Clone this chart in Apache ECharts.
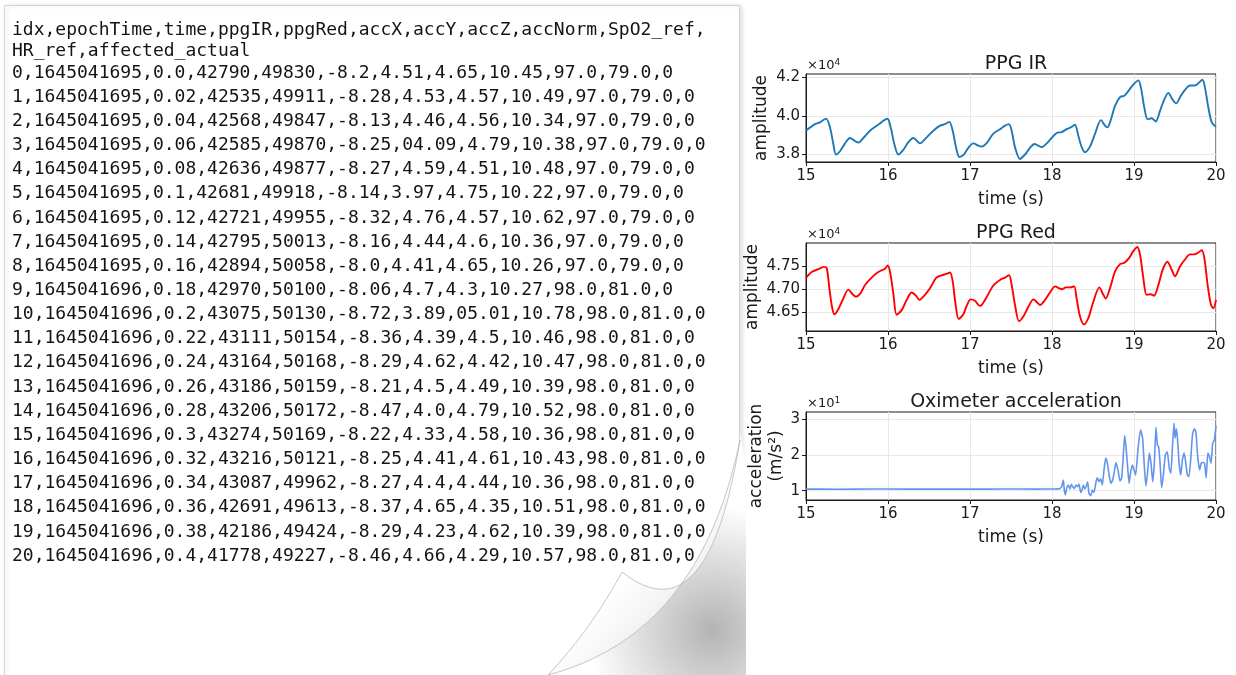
<!DOCTYPE html>
<html>
<head>
<meta charset="utf-8">
<script src="https://cdn.jsdelivr.net/npm/echarts@6/dist/echarts.min.js"></script>
<style>
  html, body { margin: 0; padding: 0; background: #ffffff; }
  #chart { width: 1236px; height: 675px; }
</style>
</head>
<body>
<div id="chart"></div>
<script>
// ---- CSV excerpt shown on the sheet ----
const csvHeader = [
  'idx,epochTime,time,ppgIR,ppgRed,accX,accY,accZ,accNorm,SpO2_ref,',
  'HR_ref,affected_actual'
];
const csvRows = [
  '0,1645041695,0.0,42790,49830,-8.2,4.51,4.65,10.45,97.0,79.0,0',
  '1,1645041695,0.02,42535,49911,-8.28,4.53,4.57,10.49,97.0,79.0,0',
  '2,1645041695,0.04,42568,49847,-8.13,4.46,4.56,10.34,97.0,79.0,0',
  '3,1645041695,0.06,42585,49870,-8.25,04.09,4.79,10.38,97.0,79.0,0',
  '4,1645041695,0.08,42636,49877,-8.27,4.59,4.51,10.48,97.0,79.0,0',
  '5,1645041695,0.1,42681,49918,-8.14,3.97,4.75,10.22,97.0,79.0,0',
  '6,1645041695,0.12,42721,49955,-8.32,4.76,4.57,10.62,97.0,79.0,0',
  '7,1645041695,0.14,42795,50013,-8.16,4.44,4.6,10.36,97.0,79.0,0',
  '8,1645041695,0.16,42894,50058,-8.0,4.41,4.65,10.26,97.0,79.0,0',
  '9,1645041696,0.18,42970,50100,-8.06,4.7,4.3,10.27,98.0,81.0,0',
  '10,1645041696,0.2,43075,50130,-8.72,3.89,05.01,10.78,98.0,81.0,0',
  '11,1645041696,0.22,43111,50154,-8.36,4.39,4.5,10.46,98.0,81.0,0',
  '12,1645041696,0.24,43164,50168,-8.29,4.62,4.42,10.47,98.0,81.0,0',
  '13,1645041696,0.26,43186,50159,-8.21,4.5,4.49,10.39,98.0,81.0,0',
  '14,1645041696,0.28,43206,50172,-8.47,4.0,4.79,10.52,98.0,81.0,0',
  '15,1645041696,0.3,43274,50169,-8.22,4.33,4.58,10.36,98.0,81.0,0',
  '16,1645041696,0.32,43216,50121,-8.25,4.41,4.61,10.43,98.0,81.0,0',
  '17,1645041696,0.34,43087,49962,-8.27,4.4,4.44,10.36,98.0,81.0,0',
  '18,1645041696,0.36,42691,49613,-8.37,4.65,4.35,10.51,98.0,81.0,0',
  '19,1645041696,0.38,42186,49424,-8.29,4.23,4.62,10.39,98.0,81.0,0',
  '20,1645041696,0.4,41778,49227,-8.46,4.66,4.29,10.57,98.0,81.0,0'
];

// ---- Plot titles and tick values ----
const plotTitles = ['PPG IR', 'PPG Red', 'Oximeter acceleration'];
const irTicks = [38000, 40000, 42000];
const redTicks = [46500, 47000, 47500];
const accTicks = [10, 20, 30];

// ---- PPG IR (raw counts) ----
const irT = [15.00, 15.11, 15.17, 15.244, 15.293, 15.333, 15.366, 15.415, 15.476, 15.537,
  15.60, 15.638, 15.70, 15.78, 15.88, 15.992, 16.033, 16.077, 16.126, 16.187,
  16.248, 16.309, 16.39, 16.472, 16.553, 16.634, 16.695, 16.748, 16.789, 16.829,
  16.87, 16.927, 16.98, 17.04, 17.10, 17.14, 17.20, 17.285, 17.366, 17.427,
  17.476, 17.508, 17.549, 17.61, 17.671, 17.732, 17.785, 17.833, 17.874, 17.935,
  17.996, 18.057, 18.118, 18.179, 18.24, 18.28, 18.321, 18.362, 18.402, 18.463,
  18.524, 18.597, 18.646, 18.675, 18.72, 18.768, 18.83, 18.882, 18.93, 18.992,
  19.053, 19.085, 19.126, 19.166, 19.215, 19.264, 19.317, 19.37, 19.419, 19.468,
  19.513, 19.57, 19.622, 19.683, 19.744, 19.785, 19.834, 19.866, 19.907, 19.948, 20.00];
const irV = [39230, 39570, 39660, 39860, 39400, 38540, 37990, 38160, 38570, 38850,
  38680, 38610, 38850, 39230, 39540, 39850, 39400, 38540, 37990, 38230,
  38630, 38850, 38570, 38880, 39230, 39490, 39570, 39690, 39230, 38370,
  37860, 38000, 38340, 38570, 38450, 38400, 38570, 39080, 39300, 39490,
  39570, 39230, 38370, 37760, 37990, 38340, 38540, 38450, 38370, 38570,
  38850, 39110, 39160, 39310, 39430, 39540, 38970, 38370, 38110, 38400,
  39060, 39780, 39490, 39400, 39830, 40520, 40980, 41050, 41290, 41630,
  41850, 41460, 40430, 39830, 39880, 39710, 40260, 40860, 41200, 40860,
  40650, 41030, 41360, 41580, 41580, 41700, 41880, 41460, 40430, 39660, 39430];

// ---- PPG Red (raw counts) ----
const redT = [15.00, 15.069, 15.15, 15.22, 15.252, 15.285, 15.317, 15.346, 15.394, 15.455,
  15.516, 15.569, 15.61, 15.659, 15.72, 15.80, 15.882, 15.963, 15.996, 16.024,
  16.065, 16.106, 16.167, 16.228, 16.289, 16.341, 16.382, 16.45, 16.512, 16.585,
  16.654, 16.715, 16.756, 16.789, 16.82, 16.862, 16.919, 16.959, 17.008, 17.06,
  17.122, 17.183, 17.285, 17.366, 17.427, 17.476, 17.508, 17.549, 17.598, 17.65,
  17.712, 17.773, 17.822, 17.854, 17.915, 17.976, 18.037, 18.086, 18.127, 18.167,
  18.22, 18.27, 18.30, 18.342, 18.39, 18.443, 18.504, 18.577, 18.626, 18.654,
  18.707, 18.768, 18.83, 18.882, 18.939, 18.992, 19.04, 19.073, 19.114, 19.154,
  19.203, 19.244, 19.297, 19.35, 19.407, 19.46, 19.50, 19.561, 19.622, 19.683,
  19.736, 19.777, 19.825, 19.858, 19.898, 19.939, 19.968, 20.00];
const redV = [47240, 47370, 47430, 47480, 47460, 47020, 46620, 46460, 46570, 46800,
  46990, 46890, 46840, 46900, 47090, 47250, 47370, 47440, 47510, 47380,
  46910, 46450, 46550, 46770, 46930, 46860, 46770, 46880, 47020, 47240,
  47300, 47330, 47360, 47170, 46730, 46360, 46460, 46640, 46780, 46750,
  46640, 46770, 47080, 47200, 47250, 47300, 47090, 46660, 46310, 46410,
  46620, 46780, 46710, 46660, 46770, 46930, 47060, 47020, 47000, 47040,
  47040, 47060, 46800, 46410, 46240, 46380, 46730, 47040, 46880, 46800,
  47020, 47380, 47540, 47570, 47670, 47820, 47910, 47750, 47240, 46880,
  46890, 46860, 47090, 47420, 47590, 47420, 47280, 47490, 47640, 47750,
  47750, 47780, 47840, 47670, 47090, 46660, 46590, 46770];

// ---- Acceleration norm (m/s^2) ----
const accT = [15.0, 15.4, 15.8, 16.2, 16.6, 17.0, 17.4, 17.8, 18.0, 18.08,
  18.098, 18.118, 18.138, 18.15, 18.163, 18.18, 18.2, 18.22, 18.236, 18.252,
  18.273, 18.293, 18.313, 18.33, 18.35, 18.366, 18.382, 18.4, 18.415, 18.435,
  18.451, 18.472, 18.492, 18.512, 18.537, 18.553, 18.573, 18.594, 18.614, 18.634,
  18.655, 18.675, 18.7, 18.72, 18.74, 18.764, 18.78, 18.805, 18.83, 18.85,
  18.87, 18.886, 18.9, 18.919, 18.94, 18.96, 18.98, 19.0, 19.02, 19.05,
  19.08, 19.105, 19.13, 19.146, 19.166, 19.187, 19.207, 19.228, 19.248, 19.268,
  19.285, 19.3, 19.317, 19.337, 19.358, 19.382, 19.406, 19.43, 19.45, 19.47,
  19.488, 19.5, 19.515, 19.53, 19.55, 19.57, 19.59, 19.612, 19.63, 19.65,
  19.67, 19.693, 19.713, 19.735, 19.755, 19.775, 19.8, 19.82, 19.84, 19.86,
  19.88, 19.9, 19.92, 19.94, 19.96, 19.98, 20.0];
const accV = [10.45, 10.42, 10.47, 10.44, 10.46, 10.43, 10.47, 10.44, 10.48, 10.5,
  10.65, 11.1, 13.0, 10.2, 8.8, 10.8, 11.6, 10.5, 11.8, 11.1,
  10.65, 11.6, 11.1, 11.8, 9.5, 10.2, 11.6, 10.5, 11.1, 12.5,
  9.25, 8.6, 10.2, 9.5, 12.5, 13.6, 12.5, 13.3, 11.6, 15.8,
  19.1, 17.7, 13.9, 12.1, 13.0, 15.8, 17.9, 15.8, 12.7, 13.6,
  20.0, 25.4, 22.8, 17.7, 12.1, 15.3, 17.2, 15.8, 14.4, 21.9,
  27.0, 24.7, 15.3, 11.3, 15.3, 20.5, 17.7, 12.5, 17.7, 27.7,
  22.8, 22.3, 18.1, 10.8, 14.4, 20.0, 20.9, 16.3, 14.9, 22.8,
  28.9, 24.7, 27.3, 24.7, 17.7, 14.4, 18.6, 20.5, 18.1, 14.4,
  13.9, 19.1, 25.6, 27.3, 26.5, 20.0, 15.8, 17.7, 17.9, 17.7,
  13.6, 20.5, 19.5, 17.7, 23.3, 24.2, 28.2];

const pairs = (ts, vs) => ts.map((t, i) => [t, vs[i]]);

const INK = '#1a1a1a';
const SANS = '"DejaVu Sans", sans-serif';
const MONO = '"DejaVu Sans Mono", monospace';

// Panel boxes on the right-hand side
const panelTops = [74, 243, 412];
const panelLeft = 806, panelWidth = 410, panelHeight = 88;

function makeX(gi) {
  return {
    type: 'value', gridIndex: gi, min: 15, max: 20, interval: 1,
    name: 'time (s)', nameLocation: 'middle', nameGap: 29,
    nameTextStyle: { fontFamily: SANS, fontSize: 17, color: INK },
    axisLine: { show: true, onZero: false, lineStyle: { color: INK, width: 1 } },
    axisTick: { show: true, length: 4, lineStyle: { color: INK, width: 1 } },
    axisLabel: { fontFamily: SANS, fontSize: 15, color: INK, margin: 7 },
    splitLine: { show: true, lineStyle: { color: '#e8e8e8', width: 1 } }
  };
}

function makeY(gi, min, max, ticks, fmt, name, gap) {
  return {
    type: 'value', gridIndex: gi, min: min, max: max,
    name: name, nameLocation: 'middle', nameGap: gap, nameRotate: 90,
    nameTextStyle: { fontFamily: SANS, fontSize: 17, color: INK, lineHeight: 20 },
    axisLine: { show: true, onZero: false, lineStyle: { color: INK, width: 1 } },
    axisTick: { show: true, length: 4, customValues: ticks, lineStyle: { color: INK, width: 1 } },
    axisLabel: { fontFamily: SANS, fontSize: 15, color: INK, margin: 6,
      customValues: ticks, formatter: fmt },
    splitLine: { show: true, lineStyle: { color: '#e8e8e8', width: 1 } }
  };
}

// quadratic curve sampled into polygon points (used for the paper curl outline)
function quad(p0, c, p1, n) {
  const out = [];
  for (let i = 0; i <= n; i++) {
    const s = i / n, a = (1 - s) * (1 - s), b = 2 * s * (1 - s), d = s * s;
    out.push([a * p0[0] + b * c[0] + d * p1[0], a * p0[1] + b * c[1] + d * p1[1]]);
  }
  return out;
}

// Sheet of paper with curled corner, holding the CSV lines
const sheet = [];
sheet.push({
  type: 'rect', z: 1,
  shape: { x: 4.5, y: 5.5, width: 735, height: 690 },
  style: { fill: '#ffffff', stroke: '#d4d4d4', lineWidth: 1,
    shadowBlur: 5, shadowColor: 'rgba(0,0,0,0.14)', shadowOffsetX: 2 }
});
// shadow cast under the curl
const foldLine = quad([548, 675], [700, 635], [740, 440], 24);
sheet.push({
  type: 'polygon', z: 2,
  shape: { points: [[740, 430], [746, 470], [746, 675]].concat(foldLine) },
  style: { fill: { type: 'radial', x: 712, y: 630, r: 125, global: true, colorStops: [
    { offset: 0, color: '#b4b4b4' }, { offset: 0.5, color: '#d9d9d9' }, { offset: 1, color: '#ffffff' }
  ] } }
});
// underside of the curled corner
const flapPts = quad([740, 440], [708, 640], [622, 572], 24)
  .concat(quad([622, 572], [592, 628], [548, 675], 16).slice(1))
  .concat(foldLine.slice(1, -1));
sheet.push({
  type: 'polygon', z: 3,
  shape: { points: flapPts },
  style: {
    fill: { type: 'linear', x: 625, y: 575, x2: 700, y2: 645, global: true, colorStops: [
      { offset: 0, color: '#ffffff' }, { offset: 0.6, color: '#efefef' }, { offset: 1, color: '#cdcdcd' }
    ] },
    stroke: '#b8b8b8', lineWidth: 0.8
  }
});
csvHeader.forEach((s, i) => sheet.push({
  type: 'text', z: 4, x: 12, y: [30, 51][i],
  style: { text: s, fontFamily: MONO, fontSize: 18, fill: '#141414', verticalAlign: 'middle' }
}));
csvRows.forEach((s, i) => sheet.push({
  type: 'text', z: 4, x: 12, y: 73 + i * 24.15,
  style: { text: s, fontFamily: MONO, fontSize: 18, fill: '#141414', verticalAlign: 'middle' }
}));

// scale-offset markers above each y axis
const offsetLabels = [['4', 0], ['4', 1], ['1', 2]].map(([p, k]) => ({
  type: 'text', z: 4, x: 807, y: panelTops[k] - 8,
  style: {
    text: '×10{s|' + p + '}', fontFamily: SANS, fontSize: 13, fill: INK, verticalAlign: 'middle',
    rich: { s: { fontFamily: SANS, fontSize: 9, fill: INK, verticalAlign: 'top', padding: [0, 0, 7, 0] } }
  }
}));

const option = {
  backgroundColor: '#ffffff',
  animation: false,
  title: plotTitles.map((t, k) => ({
    text: t, left: 1011, top: panelTops[k] - 24, textAlign: 'center',
    textStyle: { fontFamily: SANS, fontSize: 19, fontWeight: 'normal', color: INK }
  })),
  grid: panelTops.map(t => ({
    left: panelLeft, top: t, width: panelWidth, height: panelHeight,
    show: true, borderColor: INK, borderWidth: 1, backgroundColor: 'transparent'
  })),
  xAxis: [makeX(0), makeX(1), makeX(2)],
  yAxis: [
    makeY(0, 37600, 42180, irTicks, v => (v / 1e4).toFixed(1), 'amplitude', 34),
    makeY(1, 46100, 47995, redTicks, v => (v / 1e4).toFixed(2), 'amplitude', 34),
    makeY(2, 7.4, 32, accTicks, v => (v / 10).toFixed(0), 'acceleration\n(m/s²)', 17)
  ],
  graphic: { elements: sheet.concat(offsetLabels) },
  series: [
    { type: 'line', xAxisIndex: 0, yAxisIndex: 0, data: pairs(irT, irV),
      showSymbol: false, symbol: 'none', smooth: 0.3,
      lineStyle: { color: '#1f77b4', width: 1.9 } },
    { type: 'line', xAxisIndex: 1, yAxisIndex: 1, data: pairs(redT, redV),
      showSymbol: false, symbol: 'none', smooth: 0.3,
      lineStyle: { color: '#ff0000', width: 1.9 } },
    { type: 'line', xAxisIndex: 2, yAxisIndex: 2, data: pairs(accT, accV),
      showSymbol: false, symbol: 'none', smooth: 0.15,
      lineStyle: { color: '#6495ed', width: 1.6 } }
  ]
};

const chart = echarts.init(document.getElementById('chart'), null, { renderer: 'canvas' });
chart.setOption(option);
</script>
</body>
</html>
